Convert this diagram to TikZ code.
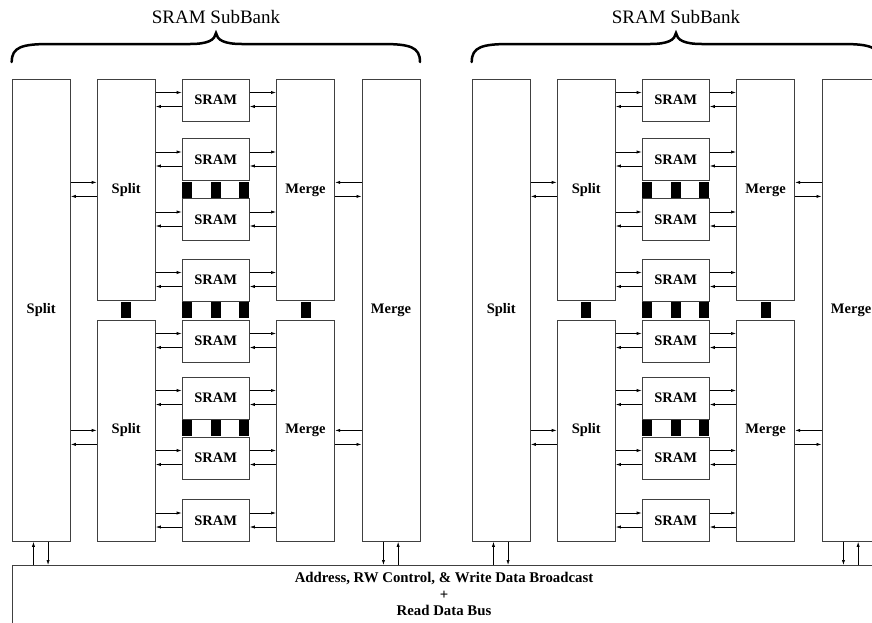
\documentclass[tikz,border=0pt]{standalone}
\usepackage{fontspec}
\setmainfont{Liberation Serif}
\usetikzlibrary{arrows.meta}
\begin{document}
\begin{tikzpicture}[x=1pt,y=-1pt,
  box/.style={draw=black!75, line width=0.8pt, rectangle, inner sep=0pt, anchor=north west,
    font=\fontsize{14.5}{16}\selectfont\bfseries},
  blk/.style={fill=black, draw=none, rectangle, inner sep=0pt, minimum width=10pt, minimum height=16pt, anchor=north west},
  arr/.style={-{Latex[length=5pt,width=3.2pt]}, line width=0.7pt},
  bracestyle/.style={line width=2.5pt, line cap=round},
  title/.style={font=\fontsize{19}{22}\selectfont, inner sep=0pt},
  bustext/.style={font=\fontsize{14.8}{16.5}\selectfont\bfseries, align=center, inner sep=0pt},
]
\useasboundingbox (0,0) rectangle (872,622);
\clip (0,0) rectangle (872,622);

% bus
\node[draw=black!75, line width=0.8pt, rectangle, inner sep=0pt, anchor=north west,
  minimum width=870pt, minimum height=90pt] (bus) at (11.7,565) {};
\node[bustext] (bustxt) at (444,594) {Address, RW Control, \& Write Data Broadcast\\+\\Read Data Bus};

\foreach \ox/\b in {0/L,460/R} {
\begin{scope}[xshift=\ox pt]
  % brace and title
  \draw[bracestyle] (11.7,62) .. controls (11.7,47) and (22,44) .. (50,44) -- (190,44)
     .. controls (208,44) and (215,40) .. (216,33)
     .. controls (217,40) and (224,44) .. (242,44) -- (382,44)
     .. controls (410,44) and (420,47) .. (420,62);
  \node[title] (\b title) at (216,17) {SRAM SubBank};

  % big split and merge
  \node[box, minimum width=58.3pt, minimum height=462pt] (\b bs) at (11.7,79) {Split};
  \node[box, minimum width=58.3pt, minimum height=462pt] (\b bm) at (361.5,79) {Merge};
  % inner split / merge
  \node[box, minimum width=58.3pt, minimum height=221pt] (\b sa) at (96.7,79) {Split};
  \node[box, minimum width=58.3pt, minimum height=221pt] (\b sb) at (96.7,319.5) {Split};
  \node[box, minimum width=58.3pt, minimum height=221pt] (\b ma) at (276,79) {Merge};
  \node[box, minimum width=58.3pt, minimum height=221pt] (\b mb) at (276,319.5) {Merge};

  % SRAMs
  \foreach \y/\k/\s/\g in {78.5/1/sa/ma,138/2/sa/ma,198/3/sa/ma,258.5/4/sa/ma,
                           319.5/5/sb/mb,376.5/6/sb/mb,436.5/7/sb/mb,499/8/sb/mb} {
    \node[box, minimum width=67.3pt, minimum height=42pt] (\b m\k) at (181.7,\y) {SRAM};
    \coordinate (\b r\k) at ([yshift=-14pt]\b m\k.north west);
    \coordinate (\b l\k) at ([yshift=-28pt]\b m\k.north west);
    \draw[arr] (\b\s.east |- \b r\k) -- (\b r\k);
    \draw[arr] (\b l\k) -- (\b\s.east |- \b l\k);
    \draw[arr] (\b m\k.east |- \b r\k) -- (\b\g.west |- \b r\k);
    \draw[arr] (\b\g.west |- \b l\k) -- (\b m\k.east |- \b l\k);
  }

  % black connectors
  \foreach \y/\r in {181.5/a,302/b,419.5/c} {
    \node[blk] (\b k\r1) at (181.7,\y) {};
    \node[blk] (\b k\r2) at (210.5,\y) {};
    \node[blk] (\b k\r3) at (239.2,\y) {};
  }
  \node[blk] (\b ks) at (121,302) {};
  \node[blk] (\b km) at (300.3,302) {};

  % big split <-> inner split
  \coordinate (\b sa1) at ([yshift=7.5pt]\b sa.west);
  \coordinate (\b sa2) at ([yshift=-6.5pt]\b sa.west);
  \coordinate (\b sb1) at (\b sb.west);
  \coordinate (\b sb2) at ([yshift=-14pt]\b sb.west);
  \draw[arr] (\b bs.east |- \b sa1) -- (\b sa1);
  \draw[arr] (\b sa2) -- (\b bs.east |- \b sa2);
  \draw[arr] (\b bs.east |- \b sb1) -- (\b sb1);
  \draw[arr] (\b sb2) -- (\b bs.east |- \b sb2);
  % inner merge <-> big merge
  \coordinate (\b ma1) at ([yshift=7.5pt]\b ma.east);
  \coordinate (\b ma2) at ([yshift=-6.5pt]\b ma.east);
  \coordinate (\b mb1) at (\b mb.east);
  \coordinate (\b mb2) at ([yshift=-14pt]\b mb.east);
  \draw[arr] (\b bm.west |- \b ma1) -- (\b ma1);
  \draw[arr] (\b ma2) -- (\b bm.west |- \b ma2);
  \draw[arr] (\b bm.west |- \b mb1) -- (\b mb1);
  \draw[arr] (\b mb2) -- (\b bm.west |- \b mb2);

  % bus connections
  \coordinate (\b su) at ([xshift=-7.8pt]\b bs.south);
  \coordinate (\b sd) at ([xshift=6.8pt]\b bs.south);
  \coordinate (\b md) at ([xshift=-7.6pt]\b bm.south);
  \coordinate (\b mu) at ([xshift=7.1pt]\b bm.south);
  \draw[arr] (bus.north -| \b su) -- (\b su);
  \draw[arr] (\b sd) -- (bus.north -| \b sd);
  \draw[arr] (\b md) -- (bus.north -| \b md);
  \draw[arr] (bus.north -| \b mu) -- (\b mu);
\end{scope}
}
\end{tikzpicture}
\end{document}
